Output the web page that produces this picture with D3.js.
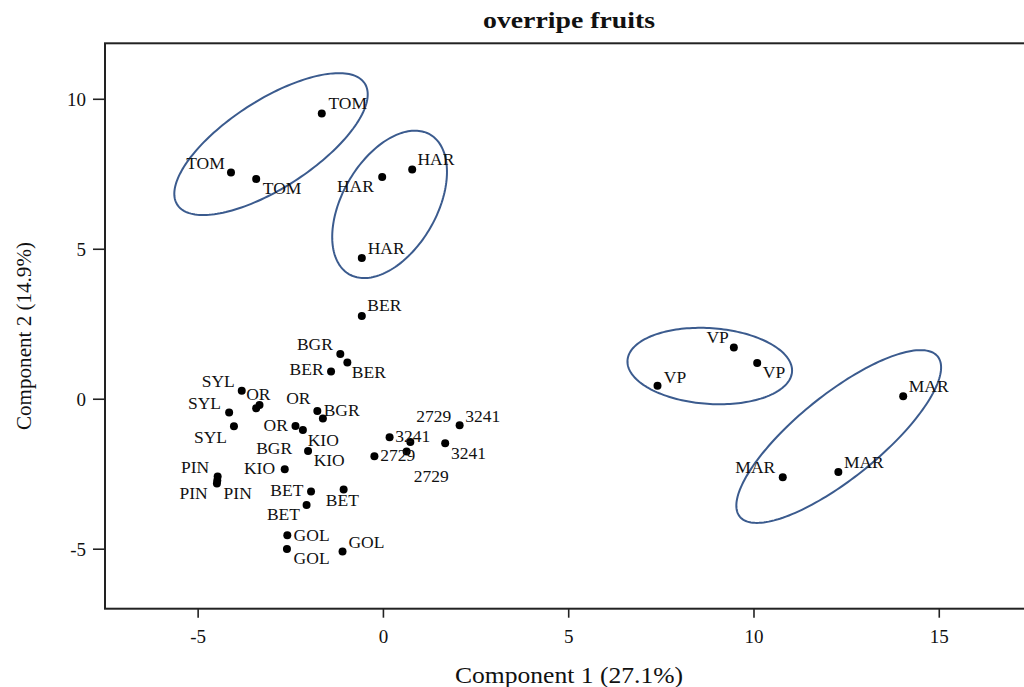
<!DOCTYPE html>
<html>
<head>
<meta charset="utf-8">
<script src="https://cdn.jsdelivr.net/npm/d3@7"></script>
<style>
  body { margin: 0; background: #fff; }
  text { font-family: "Liberation Serif", "DejaVu Serif", serif; fill: #111; }
</style>
</head>
<body>
<script>
// sample scores on the first two components
const names = ["TOM", "TOM", "TOM", "HAR", "HAR", "HAR",
  "BER", "BGR", "BER", "BER", "VP", "VP", "VP", "MAR", "MAR", "MAR",
  "SYL", "OR", "KIO", "SYL", "SYL", "OR", "BGR", "OR", "KIO", "BGR", "KIO",
  "PIN", "PIN", "PIN", "BET", "BET", "BET", "GOL", "GOL", "GOL",
  "3241", "2729", "2729", "2729", "3241", "3241"];
const pc1 = [-1.65, -4.10, -3.42, 0.79, -0.02, -0.57,
  -0.57, -1.15, -0.96, -1.40, 9.47, 10.10, 7.41, 14.04, 12.29, 10.79,
  -3.81, -3.33, -3.42, -4.15, -4.02, -1.77, -1.62, -2.36, -2.16, -2.02, -2.65,
  -4.46, -4.47, -4.48, -1.94, -1.06, -2.06, -2.58, -2.59, -1.09,
  0.18, 0.74, 0.64, -0.23, 1.68, 2.07];
const pc2 = [9.51, 7.54, 7.33, 7.64, 7.39, 4.69,
  2.76, 1.49, 1.21, 0.91, 1.71, 1.19, 0.43, 0.08, -2.44, -2.62,
  0.27, -0.21, -0.32, -0.46, -0.92, -0.41, -0.66, -0.91, -1.04, -1.74, -2.35,
  -2.59, -2.73, -2.83, -3.09, -3.03, -3.54, -4.55, -5.01, -5.09,
  -1.28, -1.44, -1.76, -1.92, -1.48, -0.88];
// where each name tag sits (data units, left end of baseline)
const labX = [-1.47, -5.31, -3.24, 0.93, -1.24, -0.41,
  -0.42, -2.32, -0.84, -2.52, 8.73, 10.25, 7.58, 14.19, 12.44, 9.51,
  -4.89, -3.69, -1.87, -5.26, -5.10, -2.61, -1.60, -3.22, -2.03, -3.42, -3.75,
  -5.45, -5.49, -4.30, -3.04, -1.54, -3.13, -2.41, -2.41, -0.93,
  0.33, 0.90, 0.83, -0.07, 1.84, 2.22];
const labY = [9.65, 7.67, 6.83, 7.78, 6.89, 4.82,
  2.91, 1.63, 0.69, 0.80, 1.86, 0.69, 0.54, 0.21, -2.31, -2.47,
  0.40, -0.03, -2.23, -0.33, -1.46, -0.17, -0.59, -1.09, -1.57, -1.84, -2.52,
  -2.47, -3.34, -3.34, -3.25, -3.59, -4.03, -4.73, -5.51, -4.97,
  -1.44, -0.79, -2.77, -2.09, -2.00, -0.79];

// group ellipses: centre and two semi-axis vectors, data units
const ellCx = [-3.02, 0.18, 8.82, 12.30];
const ellCy = [8.49, 6.48, 1.09, -1.26];
const ellAx = [2.53, 1.09, 2.22, 2.67];
const ellAy = [2.02, 2.33, -0.19, 2.67];
const ellBx = [0.64, 1.10, -0.07, 0.71];
const ellBy = [-1.23, -0.78, -1.26, -1.08];

const xTicks = [-5, 0, 5, 10, 15];
const yTicks = [-5, 0, 5, 10];

const W = 1024, H = 687;
const padLeft = 105, padTop = 43.3, padBottom = 608.7;

const svg = d3.select("body").append("svg")
  .attr("width", W).attr("height", H);

const x = d3.scaleLinear().domain([-7.5, 17.3]).range([padLeft, W]);
const y = d3.scaleLinear().domain([-7, 11.85]).range([padBottom, padTop]);

// frame
svg.append("rect")
  .attr("x", padLeft).attr("y", padTop)
  .attr("width", W + 10 - padLeft).attr("height", padBottom - padTop)
  .attr("fill", "none").attr("stroke", "#222").attr("stroke-width", 2);

// axes
const fmt = d => String(d);
const gx = svg.append("g")
  .attr("transform", "translate(0," + padBottom + ")")
  .call(d3.axisBottom(x).tickValues(xTicks).tickSize(9).tickPadding(12).tickFormat(fmt));
const gy = svg.append("g")
  .attr("transform", "translate(" + padLeft + ",0)")
  .call(d3.axisLeft(y).tickValues(yTicks).tickSize(12).tickPadding(7).tickFormat(fmt));
[gx, gy].forEach(g => {
  g.select(".domain").remove();
  g.selectAll(".tick line").attr("stroke", "#222").attr("stroke-width", 1.6);
  g.selectAll(".tick text").attr("font-family", null).style("font-size", "19px").attr("fill", "#222");
});
gy.selectAll(".tick text").attr("dy", "0.35em");

// ellipses
const tt = d3.range(0, 2 * Math.PI + 0.01, Math.PI / 90);
const line = d3.line().x(d => x(d[0])).y(d => y(d[1])).curve(d3.curveLinearClosed);
ellCx.forEach((cx, i) => {
  const pts = tt.map(t => [
    cx + ellAx[i] * Math.cos(t) + ellBx[i] * Math.sin(t),
    ellCy[i] + ellAy[i] * Math.cos(t) + ellBy[i] * Math.sin(t)
  ]);
  svg.append("path")
    .attr("d", line(pts))
    .attr("fill", "none")
    .attr("stroke", "#3b5b8e")
    .attr("stroke-width", 2);
});

// points
const idx = d3.range(names.length);
svg.selectAll(".dot")
  .data(idx)
  .enter()
  .append("circle")
  .attr("class", "dot")
  .attr("cx", i => x(pc1[i]))
  .attr("cy", i => y(pc2[i]))
  .attr("r", 4)
  .attr("fill", "#000");

svg.selectAll(".lab")
  .data(idx)
  .enter()
  .append("text")
  .attr("class", "lab")
  .attr("x", i => x(labX[i]))
  .attr("y", i => y(labY[i]))
  .style("font-size", "17.5px")
  .text(i => names[i]);

// titles
svg.append("text")
  .attr("x", 569).attr("y", 28)
  .attr("text-anchor", "middle")
  .attr("textLength", 172).attr("lengthAdjust", "spacingAndGlyphs")
  .style("font-size", "24px").style("font-weight", "bold")
  .text("overripe fruits");

svg.append("text")
  .attr("x", 569).attr("y", 683)
  .attr("text-anchor", "middle")
  .attr("textLength", 228).attr("lengthAdjust", "spacingAndGlyphs")
  .style("font-size", "23px")
  .text("Component 1 (27.1%)");

svg.append("text")
  .attr("transform", "translate(31,336) rotate(-90)")
  .attr("text-anchor", "middle")
  .attr("textLength", 188).attr("lengthAdjust", "spacingAndGlyphs")
  .style("font-size", "21.5px")
  .text("Component 2 (14.9%)");
</script>
</body>
</html>
